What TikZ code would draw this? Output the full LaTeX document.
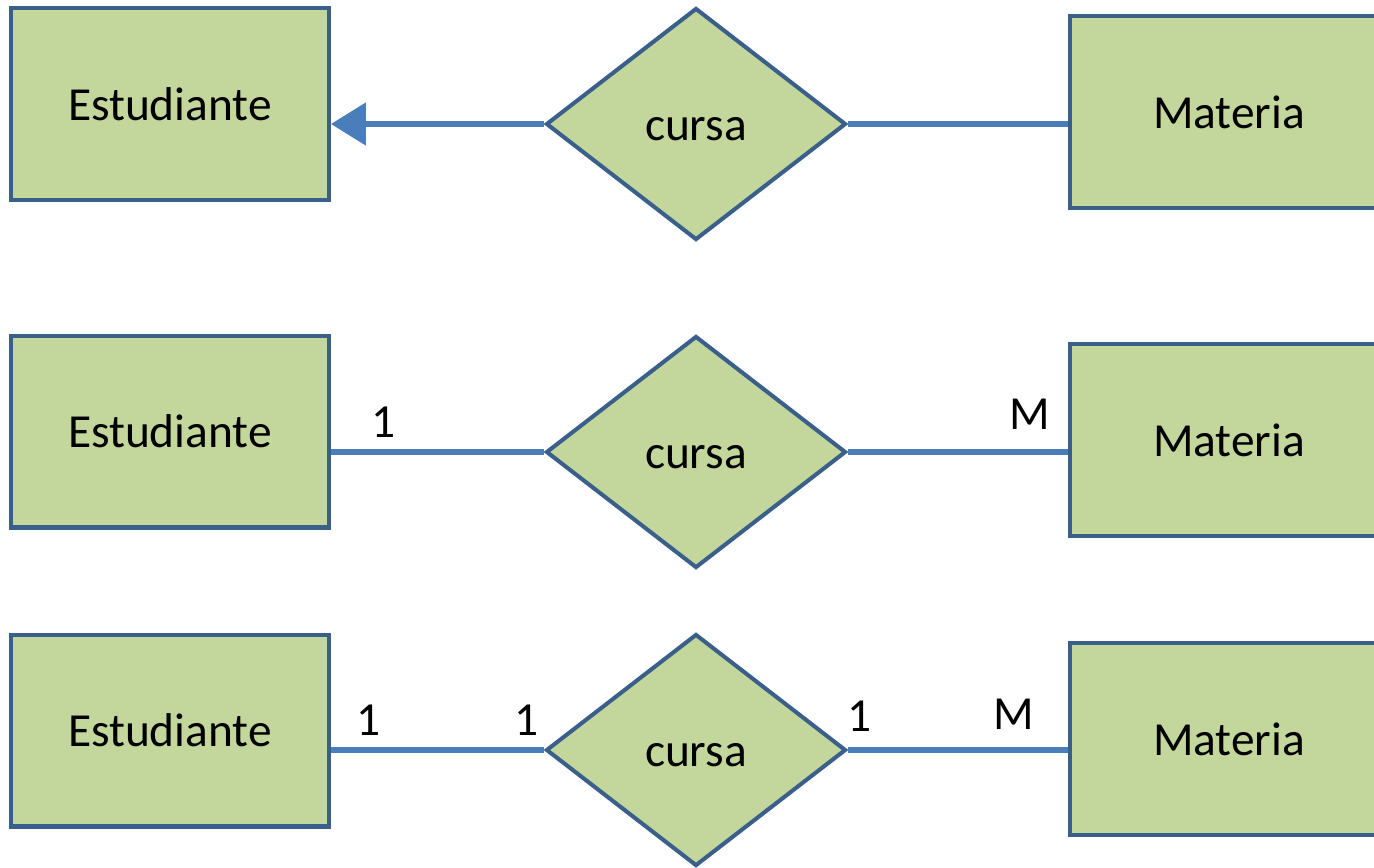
\documentclass[tikz,border=0pt]{standalone}
\usepackage{fontspec}
\setmainfont{Carlito}
\usepackage{tikz}
\usetikzlibrary{arrows.meta,positioning,shapes.geometric}

\definecolor{entfill}{HTML}{C3D69B}
\definecolor{entline}{HTML}{3A5F8B}
\definecolor{connline}{HTML}{4A7EBB}

\begin{document}
\begin{tikzpicture}[
  x=0.02cm,y=-0.02cm,
  ent/.style={draw=entline, fill=entfill, line width=2.3pt, minimum width=6.36cm, minimum height=3.84cm, inner sep=0pt, font=\fontsize{27}{32}\selectfont},
  rel/.style={diamond, draw=entline, fill=entfill, line width=2.3pt, minimum width=6cm, minimum height=4.64cm, inner sep=0pt, text height=19pt, text depth=0pt, font=\fontsize{27}{32}\selectfont},
  conn/.style={draw=connline, line width=2.9pt},
  card/.style={inner sep=0pt, font=\fontsize{27}{32}\selectfont}
]
\clip (0,0) rectangle (1374,867);

% top row: arrow towards Estudiante
\node[ent] (e1) at (170,104) {Estudiante};
\node[rel] (r1) at (696,124) {cursa};
\node[ent] (m1) at (1229,112) {Materia};
\draw[conn, -{Triangle[length=0.7cm, width=0.84cm]}] (r1.west) -- (r1.west -| e1.east);
\draw[conn] (r1.east) -- (r1.east -| m1.west);

% middle row: 1 to M
\node[ent] (e2) at (170,431.5) {Estudiante};
\node[rel] (r2) at (696,452) {cursa};
\node[ent] (m2) at (1229,440) {Materia};
\draw[conn] (r2.west) -- (r2.west -| e2.east);
\draw[conn] (r2.east) -- (r2.east -| m2.west);
\node[card] (c2a) at (384,422) {1};
\node[card] (c2b) at (1030,414) {M};

% bottom row: cardinality on both ends of each side
\node[ent] (e3) at (170,730.5) {Estudiante};
\node[rel] (r3) at (696,750) {cursa};
\node[ent] (m3) at (1229,739) {Materia};
\draw[conn] (r3.west) -- (r3.west -| e3.east);
\draw[conn] (r3.east) -- (r3.east -| m3.west);
\node[card] (c3a) at (369,720) {1};
\node[card] (c3b) at (527,720) {1};
\node[card] (c3c) at (860,716) {1};
\node[card] (c3d) at (1014,714) {M};
\end{tikzpicture}
\end{document}
